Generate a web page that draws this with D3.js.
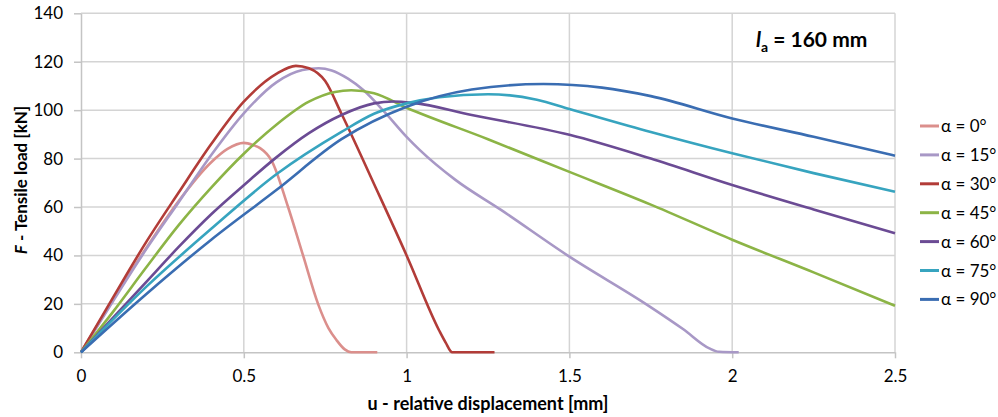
<!DOCTYPE html>
<html>
<head>
<meta charset="utf-8">
<script src="https://cdn.jsdelivr.net/npm/d3@7"></script>
<style>
  body { margin: 0; background: #fff; }
  svg text { font-family: Lato, "Open Sans", sans-serif; fill: #000; }
  .grid line { stroke: #d4d4d4; stroke-width: 1.5px; }
  .axis path, .axis line { stroke: #c4c4c4; stroke-width: 1.5px; }
  .curve { fill: none; stroke-width: 2.6px; stroke-linejoin: round; }
</style>
</head>
<body>
<div id="chart"></div>
<script>
// Tensile load F [kN] vs relative displacement u [mm], anchor length 160 mm
// each series: [u, F] pairs
var alpha0 = [[0,0],[0.1,22],[0.2,43],[0.3,62.5],[0.4,78.5],[0.45,84],[0.5,86.5],[0.53,85.5],[0.55,84.3],[0.586,79],[0.636,60],[0.682,40],[0.728,20],[0.76,10],[0.785,5],[0.81,1.2],[0.83,0],[0.91,0]];
var alpha15 = [[0,0],[0.1,21.5],[0.2,42.5],[0.3,62],[0.4,81.5],[0.5,98.7],[0.6,111.5],[0.68,116.6],[0.73,117.3],[0.77,116.4],[0.82,113],[0.867,108.3],[0.934,99],[1.0,89],[1.04,83.6],[1.15,71.2],[1.29,58.8],[1.5,39.5],[1.74,19.5],[1.85,9.5],[1.93,1.6],[1.96,0.2],[2.02,0]];
var alpha30 = [[0,0],[0.1,23],[0.2,45.5],[0.3,66],[0.4,86],[0.5,103.5],[0.6,115],[0.66,118.3],[0.7,117.3],[0.75,112],[0.8,98.5],[0.9,69.5],[1.0,40],[1.1,9],[1.12,4],[1.14,0],[1.27,0]];
var alpha45 = [[0,0],[0.1,17],[0.2,35],[0.3,52.5],[0.4,68],[0.5,82],[0.6,94],[0.7,103.5],[0.78,107.5],[0.83,108.2],[0.9,107],[1.0,101],[1.25,88],[1.5,74.5],[1.75,61],[2.0,46.5],[2.25,33],[2.5,19.2]];
var alpha60 = [[0,0],[0.1,14.5],[0.2,29],[0.3,43.5],[0.4,57],[0.5,69],[0.6,80.5],[0.7,90.5],[0.8,98],[0.9,102.8],[0.96,103.6],[1.02,103],[1.2,98],[1.5,89.8],[1.75,80],[2.0,69.1],[2.25,59],[2.5,49.2]];
var alpha75 = [[0,0],[0.2,27],[0.4,51],[0.6,73.5],[0.8,91],[0.9,98.5],[1.0,102.8],[1.1,105.3],[1.25,106.6],[1.4,104.3],[1.5,100.5],[1.75,91],[2.0,82.2],[2.25,74],[2.5,66.3]];
var alpha90 = [[0,0],[0.2,24],[0.4,46.5],[0.6,67],[0.8,88],[1.0,101.4],[1.2,108.5],[1.42,110.8],[1.6,109.3],[1.75,105.8],[2.0,96.6],[2.25,89],[2.5,81.2]];

var seriesNames = ["α = 0°", "α = 15°", "α = 30°", "α = 45°", "α = 60°", "α = 75°", "α = 90°"];
var seriesData = [alpha0, alpha15, alpha30, alpha45, alpha60, alpha75, alpha90];
var seriesColors = ["#db8f8c", "#a898c6", "#b23c38", "#8cb446", "#6b4b94", "#37a4bf", "#3a6db2"];

var xTicks = [0, 0.5, 1, 1.5, 2, 2.5];
var yTicks = [0, 20, 40, 60, 80, 100, 120, 140];

var width = 998, height = 417;
var margin = {top: 13.3, right: 103, bottom: 64.7, left: 81};
var plotW = width - margin.left - margin.right;
var plotH = height - margin.top - margin.bottom;

var x = d3.scaleLinear().domain([0, 2.5]).range([0, plotW]);
var y = d3.scaleLinear().domain([0, 140]).range([plotH, 0]);

var svg = d3.select("#chart").append("svg")
  .attr("width", width)
  .attr("height", height);

var g = svg.append("g")
  .attr("transform", "translate(" + margin.left + "," + margin.top + ")");

// gridlines
g.append("g").attr("class", "grid")
  .selectAll("line").data(yTicks.slice(1)).join("line")
  .attr("x1", 0).attr("x2", plotW)
  .attr("y1", d => y(d)).attr("y2", d => y(d));
g.append("g").attr("class", "grid")
  .selectAll("line").data(xTicks.slice(1)).join("line")
  .attr("x1", d => x(d)).attr("x2", d => x(d))
  .attr("y1", 0).attr("y2", plotH);

// axes
g.append("g").attr("class", "axis")
  .attr("transform", "translate(0," + plotH + ")")
  .call(d3.axisBottom(x).tickValues(xTicks).tickSize(6).tickSizeOuter(0).tickPadding(12)
    .tickFormat(d => String(d)));
g.append("g").attr("class", "axis")
  .call(d3.axisLeft(y).tickValues(yTicks).tickSize(7).tickSizeOuter(0).tickPadding(11));
g.selectAll(".axis text").style("font-size", "17px").style("fill", "#000");

// curves
var line = d3.line()
  .curve(d3.curveMonotoneX)
  .x(d => x(d[0]))
  .y(d => y(d[1]));

g.selectAll(".curve").data(seriesData).join("path")
  .attr("class", "curve")
  .attr("stroke", (d, i) => seriesColors[i])
  .attr("d", line);

// annotation l_a = 160 mm
var ann = svg.append("text")
  .attr("x", 756)
  .attr("y", 47)
  .style("font-size", "21px")
  .style("font-weight", "bold");
ann.append("tspan").style("font-style", "italic").text("l");
ann.append("tspan").attr("dy", 5).style("font-size", "14px").text("a");
ann.append("tspan").attr("dy", -5).text(" = 160 mm");

// legend
var legend = svg.append("g").attr("transform", "translate(920,126)");
var items = legend.selectAll("g").data(seriesNames).join("g")
  .attr("transform", (d, i) => "translate(0," + i * 28.9 + ")");
items.append("line")
  .attr("x1", 0).attr("x2", 19).attr("y1", 0).attr("y2", 0)
  .attr("stroke", (d, i) => seriesColors[i])
  .attr("stroke-width", 3);
items.append("text")
  .attr("x", 21).attr("y", 6)
  .style("font-size", "17px")
  .text(d => d);

// axis titles
svg.append("text")
  .attr("x", 488).attr("y", 410)
  .attr("text-anchor", "middle")
  .style("font-size", "18px")
  .style("font-weight", "bold")
  .text("u - relative displacement [mm]");

var yt = svg.append("text")
  .attr("transform", "translate(27,180) rotate(-90)")
  .attr("text-anchor", "middle")
  .style("font-size", "17px")
  .style("font-weight", "bold");
yt.append("tspan").style("font-style", "italic").text("F");
yt.append("tspan").text(" - Tensile load [kN]");
</script>
</body>
</html>
